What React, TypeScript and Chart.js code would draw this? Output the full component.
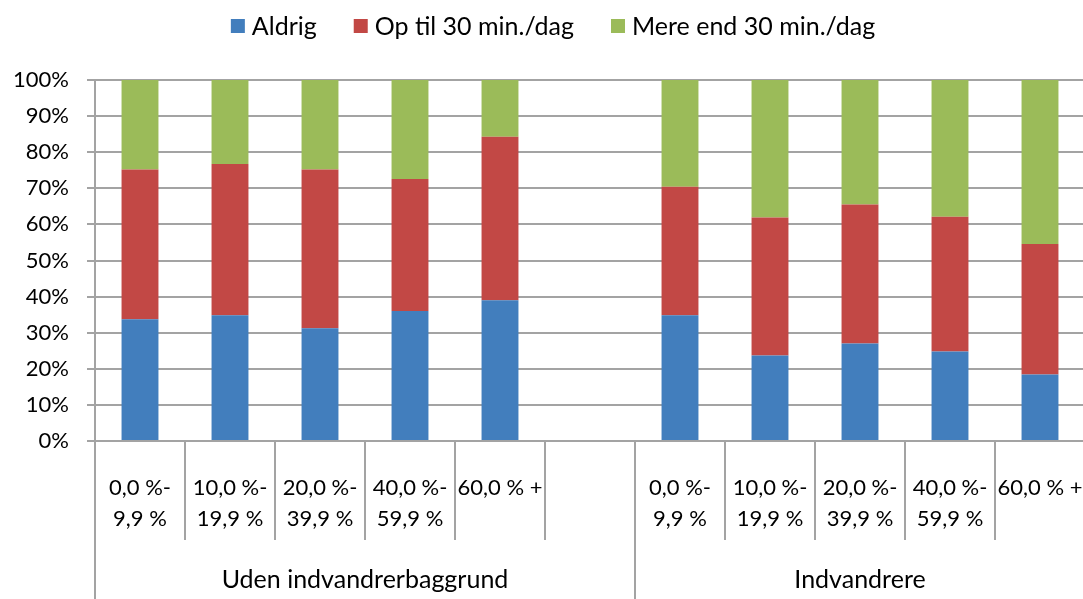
import React, { useEffect, useRef } from 'react';
import { Chart, registerables } from 'chart.js';

Chart.register(...registerables);

const categoryLabels: (string | string[])[] = [
  ['0,0 %-', '9,9 %'],
  ['10,0 %-', '19,9 %'],
  ['20,0 %-', '39,9 %'],
  ['40,0 %-', '59,9 %'],
  '60,0 % +',
  '',
  ['0,0 %-', '9,9 %'],
  ['10,0 %-', '19,9 %'],
  ['20,0 %-', '39,9 %'],
  ['40,0 %-', '59,9 %'],
  '60,0 % +',
];

const groupLabels = ['Uden indvandrerbaggrund', 'Indvandrere'];
const groupSpans = [6, 5];

const seriesNames = ['Aldrig', 'Op til 30 min./dag', 'Mere end 30 min./dag'];
const aldrig = [33.7, 34.8, 31.2, 36.0, 39.0, null, 34.8, 23.7, 27.0, 24.8, 18.4];
const opTil = [41.5, 41.9, 44.0, 36.6, 45.3, null, 35.6, 38.2, 38.5, 37.3, 36.2];
const mere = [24.8, 23.3, 24.8, 27.4, 15.7, null, 29.6, 38.1, 34.5, 37.9, 45.4];
const seriesColors = ['#427EBD', '#C24845', '#9BBB59'];

const FONT = 'Lato';
const FONT_SIZE = 22;
const TEXT_SIZE = 25;
const GRID = '#a3a3a3';

const decorPlugin = {
  id: 'decor',
  afterDraw(chart: any) {
    const ctx = chart.ctx;
    const xs = chart.scales.x;
    const area = chart.chartArea;
    const cat = xs.getPixelForValue(1) - xs.getPixelForValue(0);
    const start = xs.getPixelForValue(0) - cat / 2;
    const bottom = chart.height;
    const groupBounds = [0];
    groupSpans.forEach((s) => groupBounds.push(groupBounds[groupBounds.length - 1] + s));
    ctx.save();
    ctx.strokeStyle = GRID;
    ctx.lineWidth = 2;
    for (let k = 0; k <= categoryLabels.length; k++) {
      const x = start + k * cat;
      const full = groupBounds.includes(k);
      ctx.beginPath();
      ctx.moveTo(x, area.bottom);
      ctx.lineTo(x, full ? bottom : area.bottom + 99);
      ctx.stroke();
    }
    ctx.fillStyle = '#000';
    ctx.font = `${TEXT_SIZE}px ${FONT}`;
    ctx.textAlign = 'center';
    ctx.textBaseline = 'middle';
    for (let g = 0; g < groupLabels.length; g++) {
      const x0 = start + groupBounds[g] * cat;
      const x1 = start + groupBounds[g + 1] * cat;
      ctx.fillText(groupLabels[g], (x0 + x1) / 2, area.bottom + 139);
    }
    const box = 14;
    const gapText = 7;
    const gapItem = 37;
    ctx.textAlign = 'left';
    const widths = seriesNames.map((n) => box + gapText + ctx.measureText(n).width);
    const total = widths.reduce((a, b) => a + b, 0) + gapItem * (seriesNames.length - 1);
    let x = 553 - total / 2;
    const cy = 26;
    seriesNames.forEach((n, i) => {
      ctx.fillStyle = seriesColors[i];
      ctx.fillRect(x, cy - box / 2, box, box);
      ctx.fillStyle = '#000';
      ctx.fillText(n, x + box + gapText, cy + 1);
      x += widths[i] + gapItem;
    });
    ctx.restore();
  },
};

export default function App() {
  const ref = useRef<HTMLCanvasElement>(null);
  useEffect(() => {
    if (!ref.current) return;
    const series = [aldrig, opTil, mere];
    const chart = new Chart(ref.current, {
      type: 'bar',
      data: {
        labels: categoryLabels,
        datasets: series.map((d, i) => ({
          label: seriesNames[i],
          data: d,
          backgroundColor: seriesColors[i],
          borderWidth: 0,
          categoryPercentage: 1,
          barPercentage: 0.41,
        })),
      },
      options: {
        responsive: false,
        animation: false,
        devicePixelRatio: 1,
        layout: { padding: { top: 80, right: 1, left: 0, bottom: 0 } },
        plugins: {
          legend: { display: false },
          tooltip: { enabled: false },
        },
        scales: {
          x: {
            stacked: true,
            grid: { display: false },
            border: { display: true, color: GRID, width: 2 },
            ticks: {
              autoSkip: false,
              maxRotation: 0,
              minRotation: 0,
              padding: 23,
              color: '#000',
              font: { family: FONT, size: FONT_SIZE, lineHeight: 31 / FONT_SIZE },
            },
            afterFit(scale: any) {
              scale.height = 158;
              scale.paddingLeft = 0;
              scale.paddingRight = 0;
            },
          },
          y: {
            stacked: true,
            min: 0,
            max: 100,
            grid: { color: GRID, lineWidth: 2, tickLength: 8 },
            border: { display: true, color: GRID, width: 2 },
            ticks: {
              stepSize: 10,
              padding: 18,
              color: '#000',
              font: { family: FONT, size: FONT_SIZE },
              callback: (v: any) => `${v}%`,
            },
            afterFit(scale: any) {
              scale.width = 95;
            },
          },
        },
      },
      plugins: [decorPlugin],
    });
    return () => chart.destroy();
  }, []);
  return (
    <div style={{ position: 'fixed', left: 0, top: 0, width: 1083, height: 599, overflow: 'hidden', background: '#fff' }}>
      <canvas ref={ref} width={1086} height={599} style={{ width: 1086, height: 599, display: 'block' }} />
    </div>
  );
}
